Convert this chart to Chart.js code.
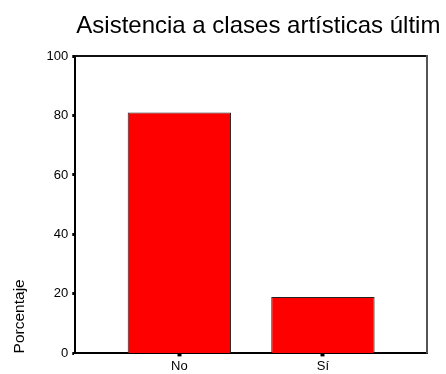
<!DOCTYPE html>
<html>
<head>
<meta charset="utf-8">
<script src="https://cdn.jsdelivr.net/npm/chart.js@4.4.1/dist/chart.umd.min.js"></script>
<style>
  html, body { margin: 0; padding: 0; background: #fff; }
  #wrap { width: 446px; height: 374px; }
</style>
</head>
<body>
<div id="wrap"><canvas id="chart" width="446" height="374"></canvas></div>
<script>
const chartTitle = 'Asistencia a clases artísticas últim';
const categories = ['No', 'Sí'];
const percentages = [81.0, 19.0];
const yTicks = [0, 20, 40, 60, 80, 100];

// plot frame (top and right edges) plus a title anchored to the plot's left edge
const frame = {
  id: 'frame',
  afterDraw(chart) {
    const a = chart.chartArea;
    const ctx = chart.ctx;
    ctx.save();
    ctx.lineWidth = 2;
    ctx.strokeStyle = '#111';
    ctx.beginPath();
    ctx.moveTo(a.left, a.top);
    ctx.lineTo(a.right, a.top);
    ctx.stroke();
    ctx.strokeStyle = '#555';
    ctx.beginPath();
    ctx.moveTo(a.right, a.top - 1);
    ctx.lineTo(a.right, a.bottom);
    ctx.stroke();

    // drawn by hand so the text is not squeezed to the plot width
    ctx.fillStyle = '#000';
    ctx.font = '24px "Liberation Sans", Arial, sans-serif';
    ctx.textAlign = 'left';
    ctx.textBaseline = 'alphabetic';
    ctx.fillText(chartTitle, a.left + 1, 33);
    ctx.restore();
  }
};

Chart.defaults.font.family = '"Liberation Sans", Arial, sans-serif';
Chart.defaults.color = '#000';

new Chart(document.getElementById('chart'), {
  type: 'bar',
  data: {
    datasets: [{
      data: categories.map((c, i) => ({ x: i + 1, y: percentages[i] })),
      backgroundColor: '#ff0000',
      borderColor: '#222',
      borderWidth: 1,
      barPercentage: 0.72,
      categoryPercentage: 1
    }]
  },
  options: {
    responsive: false,
    animation: false,
    layout: { padding: { left: 10, right: 19, top: 56, bottom: -2 } },
    plugins: {
      legend: { display: false },
      tooltip: { enabled: false },
      title: { display: false }
    },
    scales: {
      x: {
        type: 'linear',
        offset: false,
        min: 0.275,
        max: 2.725,
        afterBuildTicks: axis => { axis.ticks = categories.map((c, i) => ({ value: i + 1 })); },
        ticks: {
          callback: v => categories[v - 1],
          font: { size: 13 },
          padding: 2,
          maxRotation: 0
        },
        grid: { offset: false, drawOnChartArea: false, tickLength: 3, tickWidth: 4, tickColor: '#000' },
        border: { color: '#000', width: 2 }
      },
      y: {
        min: 0,
        max: 100,
        afterBuildTicks: axis => { axis.ticks = yTicks.map(v => ({ value: v })); },
        ticks: { font: { size: 13 }, padding: 4 },
        grid: { drawOnChartArea: false, tickLength: 3, tickWidth: 3, tickColor: '#000' },
        border: { color: '#000', width: 2 },
        title: {
          display: true,
          text: 'Porcentaje',
          align: 'start',
          font: { size: 15.5 },
          padding: { top: 0, bottom: 14 }
        }
      }
    }
  },
  plugins: [frame]
});
</script>
</body>
</html>
